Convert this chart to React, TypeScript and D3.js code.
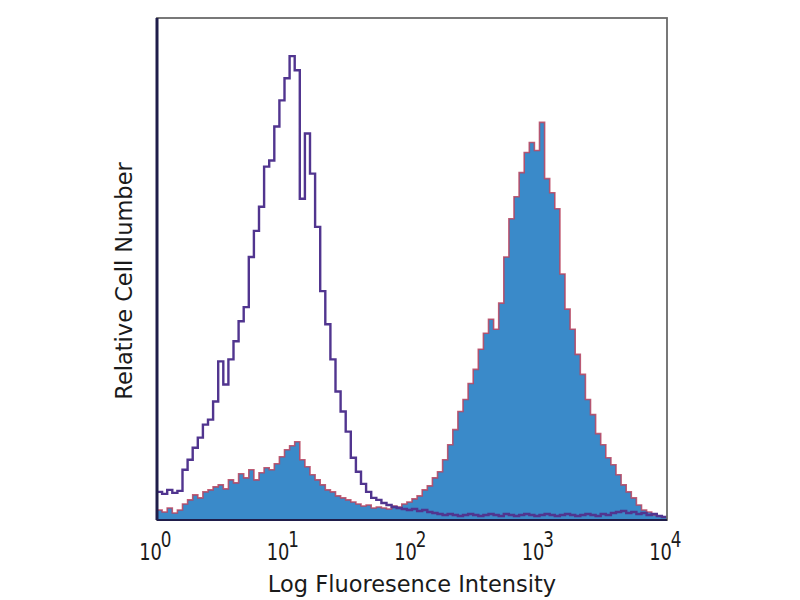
import { area, curveStepAfter, line, scaleLinear, scaleLog } from 'd3';

// histogram bins are 0.04 decades wide, starting at 10^0
const binStep = 0.04;

const isotypeCounts = [
  28, 26, 30, 27, 29, 50, 60, 72, 82, 95,
  100, 118, 158, 135, 160, 178, 198, 212, 262, 288,
  312, 352, 358, 392, 418, 440, 462, 448, 320, 385,
  345, 292, 228, 195, 160, 128, 108, 88, 62, 48,
  36, 28, 22, 20, 17, 15, 13, 12, 11, 10,
  11, 9, 10, 8, 7, 6, 5, 6, 5, 4,
  5, 6, 5, 4, 5, 6, 5, 4, 6, 5,
  4, 5, 6, 5, 4, 5, 6, 5, 4, 5,
  6, 5, 4, 5, 6, 5, 4, 6, 5, 7,
  8, 9, 7, 8, 6, 7, 5, 6, 4, 3,
];

const stainedCounts = [
  10, 8, 12, 7, 10, 16, 20, 25, 22, 28,
  30, 33, 35, 31, 40, 37, 46, 42, 50, 40,
  47, 52, 50, 56, 63, 70, 74, 78, 60, 53,
  45, 40, 35, 30, 28, 24, 22, 20, 18, 16,
  14, 15, 12, 13, 12, 11, 14, 13, 16, 18,
  21, 24, 30, 34, 42, 48, 60, 75, 90, 108,
  120, 136, 150, 170, 186, 200, 190, 216, 262, 300,
  322, 346, 366, 376, 368, 396, 340, 326, 310, 245,
  210, 190, 165, 145, 120, 105, 86, 75, 62, 55,
  45, 35, 28, 22, 15, 10, 8, 5, 4, 3,
];

const tickValues = [1, 10, 100, 1000, 10000];
const tickExponents = ['0', '1', '2', '3', '4'];

const width = 800;
const height = 600;
const plot = { left: 157, right: 667, top: 18, bottom: 520 };

type Bin = { lo: number; count: number };

function toBins(counts: number[]): Bin[] {
  const bins = counts.map((count, i) => ({ lo: Math.pow(10, i * binStep), count }));
  // extra point so the last step is closed
  bins.push({ lo: Math.pow(10, counts.length * binStep), count: counts[counts.length - 1] });
  return bins;
}

export default function App() {
  const x = scaleLog().domain([1, 10000]).range([plot.left, plot.right]);
  const y = scaleLinear().domain([0, 500]).range([plot.bottom, plot.top]);

  const stainedArea = area<Bin>()
    .x(d => x(d.lo))
    .y0(plot.bottom)
    .y1(d => y(d.count))
    .curve(curveStepAfter);

  const stepLine = line<Bin>()
    .x(d => x(d.lo))
    .y(d => y(d.count))
    .curve(curveStepAfter);

  const stained = toBins(stainedCounts);
  const isotype = toBins(isotypeCounts);

  return (
    <svg width={width} height={height} style={{ position: 'absolute', left: 0, top: 0, background: '#fff' }}>
      <defs>
        <clipPath id="plot-clip">
          <rect x={plot.left} y={plot.top} width={plot.right - plot.left} height={plot.bottom - plot.top} />
        </clipPath>
      </defs>

      <g clipPath="url(#plot-clip)">
        <path d={stainedArea(stained) ?? ''} fill="#3a8ac9" />
        <path d={stepLine(stained) ?? ''} fill="none" stroke="#b8435e" strokeWidth={1.6} strokeOpacity={0.85} />
        <path d={stepLine(isotype) ?? ''} fill="none" stroke="#51358f" strokeWidth={2.4} />
      </g>

      {/* frame */}
      <rect
        x={plot.left}
        y={plot.top}
        width={plot.right - plot.left}
        height={plot.bottom - plot.top}
        fill="none"
        stroke="#6a6a6a"
        strokeWidth={1.8}
      />
      <line x1={plot.left} x2={plot.left} y1={plot.top} y2={plot.bottom} stroke="#1f1d4a" strokeWidth={3} />
      <line x1={plot.left} x2={plot.right} y1={plot.bottom} y2={plot.bottom} stroke="#1f1d4a" strokeWidth={2.2} />

      <g fontFamily="DejaVu Sans" fill="#1a1a1a">
        {tickValues.map((tick, i) => (
          <g key={tick} transform={`translate(${x(tick)}, 560) scale(1.05, 1.35)`}>
            <text x={-17} textAnchor="start" fontSize={17}>
              10<tspan fontSize={16} dy={-10} dx={-1}>{tickExponents[i]}</tspan>
            </text>
          </g>
        ))}

        <text x={412} y={592} textAnchor="middle" fontSize={22.5}>
          Log Fluoresence Intensity
        </text>
        <text
          transform={`translate(132, 281) rotate(-90)`}
          textAnchor="middle"
          fontSize={22.5}
        >
          Relative Cell Number
        </text>
      </g>
    </svg>
  );
}
